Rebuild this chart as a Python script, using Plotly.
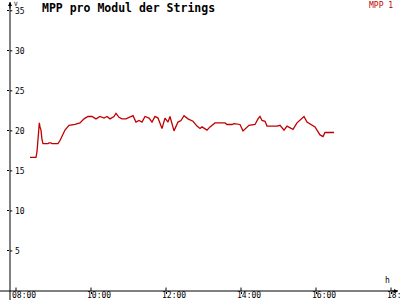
import plotly.graph_objects as go

day = "2024-01-01 "
times = ["08:22:24","08:32:00","08:33:36","08:35:12","08:37:18","08:38:24","08:40:00","08:41:36","08:43:12",
         "08:51:12","08:52:48","08:56:00","08:57:36","09:07:12","09:10:24","09:18:24","09:24:48","09:34:24",
         "09:42:24","09:48:48","09:55:12","10:01:36","10:08:00","10:14:24","10:20:48","10:25:36","10:30:24",
         "10:36:48","10:40:00","10:44:48","10:49:36","10:56:00","11:02:24","11:07:12","11:12:00","11:16:48",
         "11:21:36","11:26:24","11:32:48","11:37:36","11:42:24","11:47:12","11:53:36","11:58:24","12:03:12",
         "12:06:24","12:12:48","12:19:12","12:24:00","12:28:48","12:35:12","12:43:12","12:49:36","12:54:24",
         "12:57:36","13:02:24","13:05:36","13:10:24","13:18:24","13:34:24","13:37:36","13:45:36","13:48:48",
         "13:58:24","14:03:12","14:12:48","14:22:24","14:27:12","14:30:24","14:33:36","14:38:24","14:41:36",
         "14:51:12","14:57:36","15:02:24","15:08:48","15:13:36","15:18:24","15:23:12","15:29:36","15:37:36",
         "15:40:48","15:45:36","15:50:24","15:58:24","16:01:36","16:06:24","16:11:12","16:14:24","16:28:48"]
values = [16.7,16.7,17.4,18.8,21.0,20.5,20.1,18.9,18.4,
          18.4,18.5,18.5,18.4,18.4,18.8,20.1,20.7,20.8,
          21.0,21.5,21.8,21.8,21.5,21.8,21.6,21.8,21.5,
          21.8,22.2,21.7,21.5,21.5,21.7,21.9,21.1,21.3,
          21.1,21.8,21.6,21.1,21.8,21.6,20.3,21.6,21.1,
          21.8,20.0,21.1,21.3,21.9,21.5,21.2,20.6,20.3,
          20.5,20.3,20.1,20.5,21.0,21.0,20.8,20.8,20.9,
          20.8,20.0,20.7,20.8,21.5,21.8,21.3,21.2,20.6,
          20.6,20.6,20.7,20.1,20.6,20.4,20.2,21.0,21.6,
          21.8,21.1,20.9,20.5,20.1,19.5,19.3,19.8,19.8]
series_name = "MPP 1"
title = "MPP pro Modul der Strings"
x_ticks = ["08:00", "10:00", "12:00", "14:00", "16:00", "18:00"]
y_ticks = [5, 10, 15, 20, 25, 30, 35]

x = [day + t for t in times]
red = "#c00000"
mono = "DejaVu Sans Mono"

fig = go.Figure()
fig.add_trace(go.Scatter(x=x, y=values, mode="lines", name=series_name,
                         line=dict(color=red, width=1.3), showlegend=False, hoverinfo="skip"))

shapes = []
# axis lines extending past origin
shapes.append(dict(type="line", xref="paper", yref="paper", x0=-0.03, x1=1.0, y0=0, y1=0,
                   line=dict(color="black", width=1)))
shapes.append(dict(type="line", xref="paper", yref="paper", x0=0, x1=0, y0=-0.04, y1=1.0,
                   line=dict(color="black", width=1)))
# inner halves of the crossing ticks
for v in y_ticks:
    shapes.append(dict(type="line", xref="paper", yref="y", x0=0, x1=0.006, y0=v, y1=v,
                       line=dict(color="black", width=1)))
for t in x_ticks:
    shapes.append(dict(type="line", xref="x", yref="paper", x0=day + t + ":00", x1=day + t + ":00",
                       y0=0, y1=0.012, line=dict(color="black", width=1)))

annotations = [
    dict(text="<b>" + title + "</b>", xref="paper", yref="paper", x=30 / 388, y=1,
         xanchor="left", yanchor="middle", yshift=-6, showarrow=False,
         font=dict(family=mono, size=11.5, color="black")),
    dict(text=series_name, xref="paper", yref="paper", x=1, y=1, xanchor="right", yanchor="middle",
         xshift=-3, yshift=-3, showarrow=False, font=dict(family=mono, size=8, color=red)),
    dict(text="V", xref="paper", yref="paper", x=0, y=1, xanchor="left", yanchor="middle",
         xshift=2, yshift=-1, showarrow=False, font=dict(family=mono, size=6, color="black")),
    dict(text="h", xref="paper", yref="paper", x=1, y=0, xanchor="center", yanchor="bottom",
         xshift=-11, yshift=4, showarrow=False, font=dict(family=mono, size=8, color="black")),
    dict(text="", xref="paper", yref="paper", x=0, y=1.0, ax=0, ay=8, showarrow=True,
         arrowhead=2, arrowsize=0.8, arrowwidth=1, arrowcolor="black"),
    dict(text="", xref="paper", yref="paper", x=1.0, y=0, ax=-8, ay=0, showarrow=True,
         arrowhead=2, arrowsize=0.8, arrowwidth=1, arrowcolor="black"),
]
# x tick labels (start slightly left of each tick, as in the reference)
for t in x_ticks:
    annotations.append(dict(text=t, xref="x", yref="paper", x=day + t + ":00", y=0,
                            xanchor="left", yanchor="top", xshift=-5, yshift=1, borderpad=0,
                            showarrow=False, font=dict(family=mono, size=8, color="black")))

fig.update_layout(
    width=400, height=300,
    margin=dict(l=10, r=2, t=2, b=9),
    paper_bgcolor="white", plot_bgcolor="white",
    shapes=shapes,
    xaxis=dict(type="date", range=[day + "07:50:24", day + "18:11:12"],
               tickvals=[day + t + ":00" for t in x_ticks],
               ticks="outside", ticklen=2, tickcolor="black", showgrid=False, zeroline=False,
               showline=False, showticklabels=False, automargin=False),
    yaxis=dict(range=[0, 36.1], tickvals=y_ticks, ticktext=[str(v) for v in y_ticks],
               ticks="outside", ticklen=2, tickcolor="black", showgrid=False, zeroline=False,
               showline=False, ticklabelposition="inside", automargin=False,
               ticklabelstandoff=2,
               tickfont=dict(family=mono, size=8, color="black")),
    annotations=annotations,
)

fig.write_html("out.html")
